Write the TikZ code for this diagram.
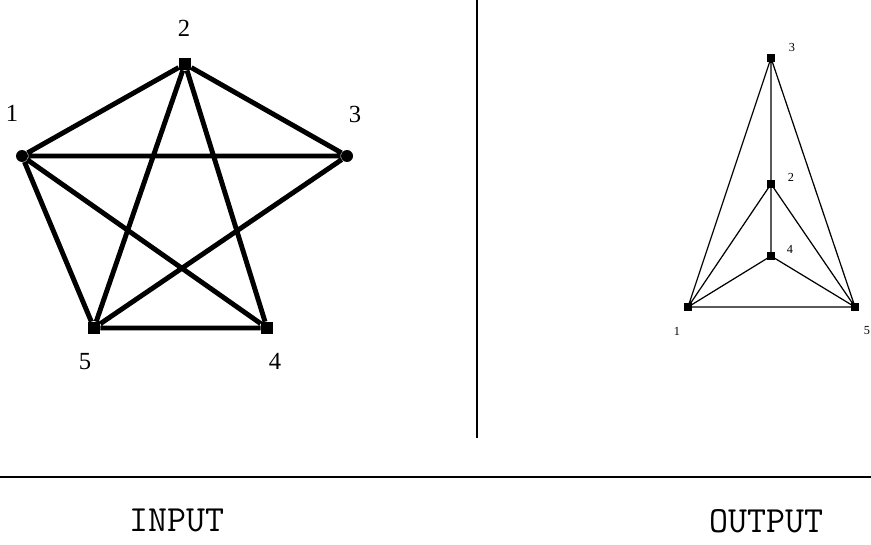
\documentclass[tikz,border=0pt]{standalone}
\usepackage{fontspec}
\setmainfont{Liberation Serif}

\begin{document}
\begin{tikzpicture}[x=0.02cm, y=-0.02cm,
    bigv/.style={fill=black, inner sep=0pt, minimum size=0.24cm},
    smallv/.style={fill=black, inner sep=0pt, minimum size=0.15cm},
    biglab/.style={font=\fontsize{14}{16}\selectfont, inner sep=0pt},
    smalllab/.style={font=\fontsize{7}{8}\selectfont, inner sep=0pt},
    capt/.style={font=\ttfamily\fontsize{21}{23}\selectfont, inner sep=0pt, anchor=north}]
    \useasboundingbox (0,0) rectangle (871,544);

    % 输入图
    \node[bigv, circle] (v1) at (22,156) {};
    \node[bigv] (v2) at (185,64) {};
    \node[bigv, circle] (v3) at (347,156) {};
    \node[bigv] (v4) at (267,328) {};
    \node[bigv] (v5) at (94,328) {};

    \node[biglab] (t1) at (12,113) {1};
    \node[biglab] (t2) at (184,28) {2};
    \node[biglab] (t3) at (355,114) {3};
    \node[biglab] (t4) at (275,361) {4};
    \node[biglab] (t5) at (85,362) {5};

    \draw[line width=2.8pt]
    (v1) -- (v2) (v1) -- (v3) (v1) -- (v4) (v1) -- (v5)
    (v2) -- (v3) (v2) -- (v4) (v2) -- (v5)
    (v3) -- (v5) (v4) -- (v5);

    % 输出图
    \node[smallv] (w3) at (771,58) {};
    \node[smallv] (w2) at (771,184) {};
    \node[smallv] (w4) at (771,256) {};
    \node[smallv] (w1) at (688,307) {};
    \node[smallv] (w5) at (855,307) {};

    \node[smalllab] (s3) at (792,47) {3};
    \node[smalllab] (s2) at (791,177) {2};
    \node[smalllab] (s4) at (790,249) {4};
    \node[smalllab] (s1) at (677,331) {1};
    \node[smalllab] (s5) at (867,331) {5};

    \draw[line width=0.7pt]
    (w3.center) -- (w1.center) (w3.center) -- (w5.center) (w3.center) -- (w2.center)
    (w2.center) -- (w4.center) (w2.center) -- (w1.center) (w2.center) -- (w5.center)
    (w4.center) -- (w1.center) (w4.center) -- (w5.center) (w1.center) -- (w5.center);

    % 分隔线
    \coordinate (top) at (477,0);
    \coordinate (bot) at (477,438);
    \draw[line width=1pt] (top) -- (bot);
    \coordinate (left) at (0,477);
    \coordinate (right) at (871,477);
    \draw[line width=1.2pt] (left) -- (right);

    % 标题
    \node[capt] (inp) at (177,509) {INPUT};
    \node[capt] (outp) at (766,509) {OUTPUT};
\end{tikzpicture}
\end{document}
